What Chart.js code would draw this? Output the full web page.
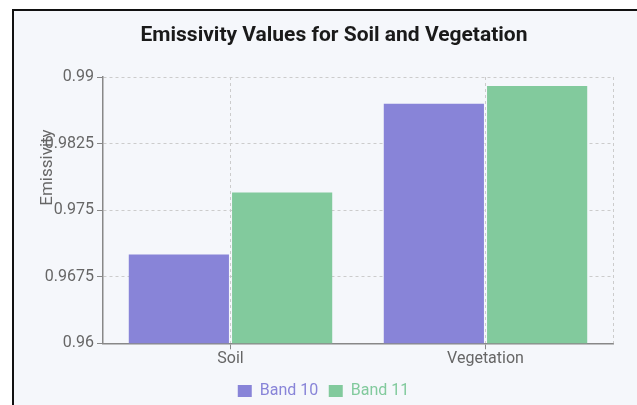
<!DOCTYPE html>
<html>
<head>
<meta charset="utf-8">
<script src="https://cdn.jsdelivr.net/npm/chart.js@4.4.1/dist/chart.umd.min.js"></script>
<style>
  html, body { margin: 0; padding: 0; background: #ffffff; }
  #frame {
    position: absolute; left: 12px; top: 9px;
    width: 623px; height: 394px;
    border-top: 2px solid #111; border-left: 2px solid #111;
    background: #f5f7fb;
  }
  #frame canvas { display: block; }
</style>
</head>
<body>
<div id="frame"><canvas id="chart" width="623" height="394"></canvas></div>
<script>
// Emissivity readings per surface type and Landsat thermal band
const categories = ['Soil', 'Vegetation'];
const band10 = [0.970, 0.987];
const band11 = [0.977, 0.989];
const seriesNames = ['Band 10', 'Band 11'];
const seriesColors = ['#8884d8', '#82ca9d'];
const yTicks = [0.96, 0.9675, 0.975, 0.9825, 0.99];

const FONT = 'Roboto';

// Extra drawing: dashed right edge of the plot, rotated y-axis caption,
// and horizontal nudges of the title and legend rows.
const decor = {
  id: 'decor',
  afterLayout(chart) {
    chart.titleBlock.left += 20.5;
    chart.titleBlock.right += 20.5;
    chart.legend.left += 10;
    chart.legend.right += 10;
    chart.legend.top += 4;
    chart.legend.bottom += 4;
  },
  beforeDatasetsDraw(chart) {
    const { ctx, chartArea: a } = chart;
    ctx.save();
    ctx.strokeStyle = '#cccccc';
    ctx.lineWidth = 1;
    ctx.setLineDash([3, 3]);
    ctx.beginPath();
    ctx.moveTo(Math.round(a.right) + 0.5, a.top);
    ctx.lineTo(Math.round(a.right) + 0.5, a.bottom);
    ctx.stroke();
    ctx.restore();
  },
  afterDraw(chart) {
    const { ctx, chartArea: a } = chart;
    ctx.save();
    ctx.translate(a.left - 55, a.top + a.height * 0.34);
    ctx.rotate(-Math.PI / 2);
    ctx.font = `17px ${FONT}`;
    ctx.fillStyle = '#666666';
    ctx.textAlign = 'center';
    ctx.textBaseline = 'middle';
    ctx.fillText('Emissivity', 0, 0);
    ctx.restore();
  }
};

new Chart(document.getElementById('chart'), {
  type: 'bar',
  data: {
    labels: categories,
    datasets: [
      { label: seriesNames[0], data: band10, backgroundColor: seriesColors[0] },
      { label: seriesNames[1], data: band11, backgroundColor: seriesColors[1] }
    ]
  },
  options: {
    responsive: false,
    animation: false,
    layout: { padding: { left: 0, right: 24, top: 0, bottom: 0 } },
    datasets: { bar: { categoryPercentage: 0.81, barPercentage: 0.97 } },
    plugins: {
      title: {
        display: true,
        text: 'Emissivity Values for Soil and Vegetation',
        color: '#1a1a1a',
        font: { family: FONT, size: 21, weight: 'bold' },
        padding: { top: 12, bottom: 28.8 }
      },
      legend: {
        position: 'bottom',
        labels: {
          boxWidth: 14,
          boxHeight: 12,
          padding: 10.5,
          font: { family: FONT, size: 16 },
          generateLabels(chart) {
            return chart.data.datasets.map((ds, i) => ({
              text: ds.label,
              fillStyle: ds.backgroundColor,
              strokeStyle: ds.backgroundColor,
              lineWidth: 0,
              fontColor: ds.backgroundColor,
              hidden: !chart.isDatasetVisible(i),
              datasetIndex: i
            }));
          }
        }
      },
      tooltip: { enabled: false }
    },
    scales: {
      x: {
        grid: { offset: false, color: '#cccccc', tickColor: '#888888', tickLength: 6 },
        border: { color: '#888888', width: 1.5, dash: [3, 3] },
        ticks: { color: '#666666', font: { family: FONT, size: 16 }, padding: 0 }
      },
      y: {
        min: yTicks[0],
        max: yTicks[yTicks.length - 1],
        afterBuildTicks(scale) { scale.ticks = yTicks.map(v => ({ value: v })); },
        afterFit(scale) { scale.width = 89; },
        grid: { color: '#cccccc', tickColor: '#888888', tickLength: 6 },
        border: { color: '#888888', width: 1.5, dash: [3, 3] },
        ticks: { color: '#666666', font: { family: FONT, size: 16 }, padding: 3, callback: v => String(v) }
      }
    }
  },
  plugins: [decor]
});
</script>
</body>
</html>
